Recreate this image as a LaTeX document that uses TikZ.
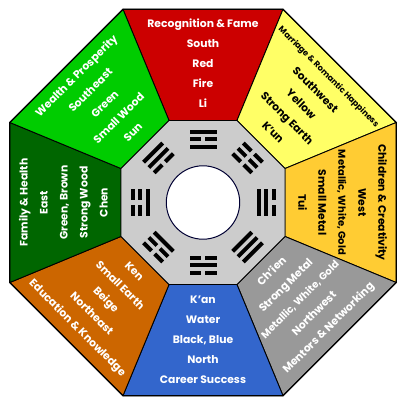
\documentclass[tikz,border=0pt]{standalone}
\usepackage{fontspec}
\setmainfont{Poppins}
\definecolor{cRed}{HTML}{CC0000}
\definecolor{cYellow}{HTML}{FFFF66}
\definecolor{cGold}{HTML}{FFCC33}
\definecolor{cGray}{HTML}{999999}
\definecolor{cBlue}{HTML}{3366CC}
\definecolor{cBrown}{HTML}{CC6600}
\definecolor{cDkGreen}{HTML}{006600}
\definecolor{cGreen}{HTML}{00CC00}
\definecolor{cCenter}{HTML}{CCCCCC}
\definecolor{cNavy}{HTML}{000033}
\newcommand\trigline[2]{%
  \ifnum#2=1
    \fill[triline] (-13.5,#1-2) rectangle (13.5,#1+2);
  \else
    \fill[triline] (-13.5,#1-2) rectangle (-2.2,#1+2);
    \fill[triline] (2.2,#1-2) rectangle (13.5,#1+2);
  \fi}
\newcommand\trig[4]{%
  \begin{scope}[rotate=#1-90]
    \trigline{70.5}{#2}\trigline{63}{#3}\trigline{55.5}{#4}
  \end{scope}}
\newcommand\segtext[5]{%
  \foreach \txt [count=\k] in {#5} {
    \node[segtxt, text=#4, rotate=#2, anchor=mid] (t#1-\k) at ({#1}:{138+#3*(3-\k)*20}) {\txt};
  }}
\newcommand\narrow{\fontsize{10}{11}\selectfont}
\begin{document}
\begin{tikzpicture}[x=1pt,y=1pt,
  segtxt/.style={font=\fontsize{10.8}{12}\selectfont\bfseries, inner sep=0pt},
  triline/.style={fill=black},
  segline/.style={draw=black, line width=0.9pt, line join=round}]
\useasboundingbox (-203,-203.5) rectangle (203,202.5);
\def\Ro{209.2}
\def\Ri{88.76}
\foreach \a/\c in {90/cRed,45/cYellow,0/cGold,-45/cGray,-90/cBlue,-135/cBrown,180/cDkGreen,135/cGreen}
  \filldraw[fill=\c, segline] ({\a-22.5}:\Ro) -- ({\a+22.5}:\Ro) -- ({\a+22.5}:\Ri) -- ({\a-22.5}:\Ri) -- cycle;
\filldraw[fill=cCenter, segline] (22.5:\Ri) \foreach \i in {1,...,7} { -- ({22.5+45*\i}:\Ri) } -- cycle;
\draw[line width=1.2pt, line join=round] (22.5:\Ro) \foreach \i in {1,...,7} { -- ({22.5+45*\i}:\Ro) } -- cycle;
\node[circle, draw=cNavy, fill=white, line width=1pt, minimum size=73.4pt, inner sep=0pt] (yin) at (0,0) {};
\trig{90}{1}{0}{1}
\trig{45}{0}{0}{0}
\trig{0}{0}{1}{1}
\trig{-45}{1}{1}{1}
\trig{-90}{0}{1}{0}
\trig{-135}{0}{0}{1}
\trig{180}{0}{0}{1}
\trig{135}{1}{1}{0}
\segtext{90}{0}{1}{white}{Recognition \& Fame, South, Red, Fire, Li}
\segtext{45}{-45}{1}{black}{{\fontsize{8.3}{9}\selectfont Marriage \& Romantic Happiness}, Southwest, Yellow, Strong Earth, K'un}
\segtext{0}{-90}{1}{black}{Children \& Creativity, West, {\narrow Metallic, White, Gold}, Small Metal, Tui}
\segtext{-45}{45}{-1}{white}{Ch'ien, Strong Metal, {\narrow Metallic, White, Gold}, Northwest, Mentors \& Networking}
\segtext{-90}{0}{-1}{white}{K'an, Water, {Black, Blue}, North, Career Success}
\segtext{-135}{-45}{-1}{white}{Ken, Small Earth, Beige, Northeast, Education \& Knowledge}
\segtext{180}{90}{1}{white}{Family \& Health, East, {Green, Brown}, Strong Wood, Chen}
\segtext{135}{45}{1}{white}{Wealth \& Prosperity, Southeast, Green, Small Wood, Sun}
\end{tikzpicture}
\end{document}
